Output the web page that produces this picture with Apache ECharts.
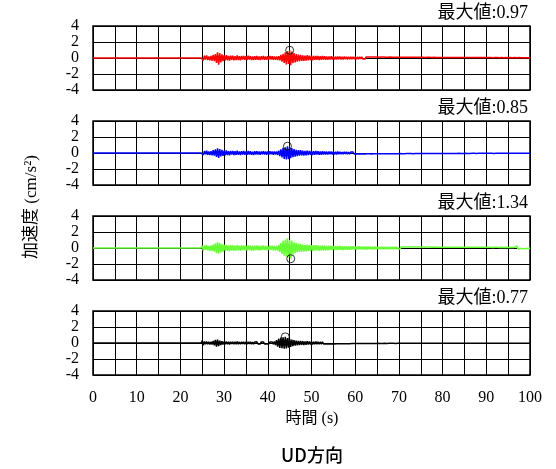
<!DOCTYPE html>
<html>
<head>
<meta charset="utf-8">
<script src="https://cdn.jsdelivr.net/npm/echarts@6/dist/echarts.min.js"></script>
<style>
html,body{margin:0;padding:0;background:#fff;}
#chart{width:556px;height:469px;}
</style>
</head>
<body>
<div id="chart"></div>
<script>
// time axis of the sampled records (s): first sample and step
var startTime = 25.0;
var timeStep = 0.25;
var xTicks = [0,10,20,30,40,50,60,70,80,90,100];
var yTicks = [-4,-2,0,2,4];

// acceleration records (cm/s^2), one value every 0.25 s from 25.00 s to 99.75 s (20 values per row = 5 s)
var accRed = [
 0.22,-0.3,0.28,-0.18,0.32,-0.26,0.2,-0.3,0.27,-0.34,0.4,-0.38,0.5,-0.62,0.72,-0.85,0.6,-0.55,0.45,-0.4,
 0.36,-0.3,0.34,-0.28,0.25,-0.32,0.3,-0.22,0.28,-0.3,0.24,-0.27,0.31,-0.25,0.22,-0.28,0.26,-0.2,0.27,-0.24,
 0.22,-0.26,0.28,-0.2,0.24,-0.25,0.19,-0.27,0.23,-0.21,0.26,-0.22,0.2,-0.24,0.22,-0.19,0.25,-0.21,0.2,-0.23,
 0.21,-0.2,0.24,-0.18,0.22,-0.23,0.19,-0.22,0.2,-0.25,0.23,-0.3,0.38,-0.45,0.52,-0.6,0.7,-0.82,0.88,-0.75,
 0.97,-0.9,0.8,-0.65,0.6,-0.55,0.48,-0.45,0.42,-0.38,0.4,-0.35,0.33,-0.36,0.3,-0.32,0.34,-0.28,0.3,-0.27,
 0.28,-0.3,0.26,-0.24,0.27,-0.22,0.25,-0.26,0.21,-0.23,0.24,-0.2,0.22,-0.21,0.19,-0.22,0.2,-0.18,0.21,-0.19,
 0.18,-0.2,0.17,-0.19,0.2,-0.16,0.18,-0.17,0.15,-0.18,0.17,-0.15,0.16,-0.17,0.14,-0.16,0.15,-0.14,0.16,-0.13,
 0.14,-0.15,0.13,-0.14,0.15,-0.12,0.14,-0.13,0.12,-0.14,0.13,-0.12,0.14,-0.11,0.12,-0.13,0.11,-0.12,0.13,-0.11,
 0.12,-0.11,0.1,-0.12,0.11,-0.1,0.12,-0.09,0.1,-0.11,0.09,-0.1,0.11,-0.09,0.1,-0.1,0.09,-0.11,0.1,-0.09,
 0.09,-0.1,0.1,-0.08,0.09,-0.09,0.08,-0.1,0.09,-0.08,0.1,-0.08,0.08,-0.09,0.09,-0.07,0.08,-0.09,0.08,-0.08,
 0.08,-0.07,0.09,-0.08,0.07,-0.08,0.08,-0.07,0.08,-0.08,0.07,-0.07,0.08,-0.06,0.07,-0.08,0.07,-0.07,0.06,-0.07,
 0.07,-0.06,0.07,-0.07,0.06,-0.07,0.07,-0.06,0.06,-0.07,0.07,-0.06,0.06,-0.06,0.07,-0.05,0.06,-0.06,0.06,-0.05,
 0.06,-0.05,0.06,-0.06,0.05,-0.06,0.06,-0.05,0.05,-0.06,0.06,-0.05,0.05,-0.05,0.06,-0.05,0.05,-0.05,0.05,-0.06,
 0.05,-0.05,0.06,-0.04,0.05,-0.05,0.04,-0.05,0.05,-0.04,0.05,-0.05,0.04,-0.05,0.05,-0.04,0.04,-0.05,0.05,-0.04,
 0.04,-0.05,0.05,-0.04,0.04,-0.04,0.05,-0.04,0.04,-0.04,0.05,-0.04,0.04,-0.04,0.04,-0.05,0.04,-0.04,0.04,-0.04
];
var accBlue = [
 0.2,-0.26,0.24,-0.17,0.28,-0.22,0.2,-0.25,0.24,-0.3,0.35,-0.32,0.45,-0.5,0.58,-0.62,0.5,-0.42,0.38,-0.35,
 0.3,-0.28,0.31,-0.25,0.22,-0.28,0.26,-0.2,0.25,-0.27,0.22,-0.24,0.28,-0.22,0.2,-0.25,0.23,-0.19,0.24,-0.22,
 0.2,-0.23,0.25,-0.18,0.22,-0.22,0.17,-0.24,0.21,-0.19,0.23,-0.2,0.18,-0.22,0.2,-0.17,0.22,-0.19,0.18,-0.21,
 0.19,-0.18,0.21,-0.17,0.2,-0.21,0.18,-0.2,0.19,-0.24,0.3,-0.38,0.45,-0.55,0.65,-0.75,0.7,-0.8,0.85,-0.78,
 0.72,-0.66,0.6,-0.52,0.48,-0.45,0.4,-0.38,0.36,-0.33,0.35,-0.3,0.3,-0.32,0.27,-0.29,0.3,-0.25,0.27,-0.24,
 0.25,-0.27,0.23,-0.22,0.24,-0.2,0.22,-0.23,0.19,-0.21,0.21,-0.18,0.2,-0.19,0.17,-0.2,0.18,-0.16,0.19,-0.17,
 0.16,-0.18,0.15,-0.17,0.18,-0.14,0.16,-0.15,0.13,-0.16,0.15,-0.13,0.14,-0.15,0.12,-0.14,0.13,-0.12,0.14,-0.12,
 0.12,-0.13,0.11,-0.12,0.13,-0.1,0.12,-0.11,0.1,-0.12,0.11,-0.1,0.12,-0.1,0.1,-0.11,0.1,-0.1,0.11,-0.09,
 0.1,-0.09,0.09,-0.1,0.1,-0.08,0.1,-0.08,0.09,-0.09,0.08,-0.09,0.09,-0.08,0.09,-0.08,0.08,-0.09,0.08,-0.08,
 0.08,-0.07,0.08,-0.08,0.07,-0.08,0.07,-0.07,0.08,-0.06,0.07,-0.07,0.06,-0.08,0.07,-0.06,0.07,-0.07,0.06,-0.07,
 0.07,-0.06,0.06,-0.07,0.07,-0.06,0.06,-0.06,0.07,-0.05,0.06,-0.06,0.05,-0.06,0.06,-0.05,0.06,-0.06,0.05,-0.06,
 0.06,-0.05,0.05,-0.06,0.06,-0.05,0.05,-0.05,0.06,-0.05,0.05,-0.05,0.05,-0.06,0.05,-0.04,0.05,-0.05,0.04,-0.05,
 0.05,-0.04,0.05,-0.05,0.04,-0.05,0.05,-0.04,0.05,-0.04,0.04,-0.05,0.05,-0.04,0.04,-0.04,0.05,-0.04,0.04,-0.04,
 0.04,-0.04,0.05,-0.04,0.04,-0.04,0.04,-0.05,0.04,-0.04,0.04,-0.04,0.05,-0.03,0.04,-0.04,0.04,-0.04,0.03,-0.04,
 0.04,-0.03,0.04,-0.04,0.03,-0.04,0.04,-0.03,0.04,-0.04,0.03,-0.04,0.04,-0.03,0.04,-0.03,0.03,-0.04,0.04,-0.03
];
var accGreen = [
 0.28,-0.34,0.32,-0.24,0.36,-0.3,0.27,-0.35,0.33,-0.4,0.46,-0.44,0.58,-0.66,0.75,-0.7,0.62,-0.55,0.48,-0.45,
 0.42,-0.36,0.4,-0.34,0.3,-0.38,0.36,-0.28,0.34,-0.36,0.3,-0.33,0.37,-0.3,0.28,-0.34,0.32,-0.26,0.33,-0.3,
 0.28,-0.32,0.34,-0.26,0.3,-0.31,0.25,-0.33,0.29,-0.27,0.32,-0.28,0.26,-0.3,0.28,-0.25,0.31,-0.27,0.26,-0.29,
 0.27,-0.26,0.3,-0.24,0.28,-0.29,0.25,-0.28,0.27,-0.32,0.4,-0.5,0.62,-0.75,0.9,-0.95,1.05,-1.1,1.2,-1.15,
 1.0,-1.34,0.9,-0.8,0.72,-0.66,0.6,-0.55,0.52,-0.48,0.5,-0.44,0.42,-0.45,0.4,-0.41,0.43,-0.37,0.4,-0.36,
 0.37,-0.38,0.35,-0.33,0.36,-0.3,0.33,-0.34,0.29,-0.31,0.32,-0.28,0.3,-0.29,0.26,-0.3,0.28,-0.25,0.28,-0.26,
 0.25,-0.27,0.24,-0.26,0.27,-0.22,0.25,-0.24,0.21,-0.25,0.23,-0.21,0.22,-0.23,0.2,-0.22,0.21,-0.19,0.22,-0.19,
 0.2,-0.21,0.19,-0.2,0.21,-0.17,0.2,-0.18,0.17,-0.2,0.18,-0.17,0.19,-0.16,0.17,-0.18,0.16,-0.17,0.18,-0.15,
 0.16,-0.15,0.14,-0.16,0.15,-0.14,0.16,-0.13,0.14,-0.15,0.13,-0.14,0.15,-0.13,0.14,-0.13,0.13,-0.14,0.14,-0.12,
 0.12,-0.13,0.13,-0.11,0.12,-0.12,0.11,-0.13,0.12,-0.11,0.13,-0.11,0.11,-0.12,0.12,-0.1,0.11,-0.12,0.11,-0.11,
 0.11,-0.1,0.12,-0.11,0.1,-0.11,0.11,-0.1,0.11,-0.11,0.1,-0.1,0.11,-0.09,0.1,-0.11,0.1,-0.1,0.09,-0.1,
 0.1,-0.09,0.1,-0.1,0.09,-0.1,0.1,-0.09,0.09,-0.1,0.1,-0.09,0.09,-0.09,0.1,-0.08,0.09,-0.09,0.09,-0.08,
 0.09,-0.08,0.09,-0.09,0.08,-0.09,0.09,-0.08,0.08,-0.09,0.09,-0.08,0.08,-0.08,0.09,-0.08,0.08,-0.08,0.08,-0.09,
 0.08,-0.08,0.09,-0.07,0.08,-0.08,0.07,-0.08,0.08,-0.07,0.08,-0.08,0.07,-0.08,0.08,-0.07,0.07,-0.08,0.08,-0.07,
 0.07,-0.08,0.08,-0.07,0.07,-0.07,0.08,-0.07,0.25,-0.12,0.08,-0.07,0.07,-0.07,0.07,-0.08,0.07,-0.07,0.07,-0.07
];
var accBlack = [
 0.3,-0.28,0.2,-0.15,0.18,-0.14,0.16,-0.18,0.15,-0.2,0.25,-0.3,0.4,-0.45,0.42,-0.38,0.3,-0.25,0.22,-0.2,
 0.18,-0.16,0.19,-0.15,0.14,-0.17,0.16,-0.13,0.15,-0.16,0.14,-0.15,0.17,-0.14,0.13,-0.15,0.15,-0.12,0.15,-0.14,
 0.13,-0.15,0.16,-0.12,0.14,-0.14,0.12,-0.15,0.13,-0.12,0.15,-0.13,0.12,-0.14,0.13,-0.11,0.14,-0.12,0.12,-0.13,
 0.12,-0.12,0.14,-0.11,0.13,-0.14,0.18,-0.25,0.35,-0.45,0.55,-0.6,0.68,-0.65,0.72,-0.7,0.77,-0.68,0.62,-0.58,
 0.52,-0.48,0.42,-0.4,0.35,-0.33,0.3,-0.28,0.27,-0.25,0.26,-0.22,0.22,-0.24,0.2,-0.21,0.22,-0.18,0.2,-0.18,
 0.17,-0.18,0.16,-0.15,0.17,-0.14,0.15,-0.15,0.13,-0.14,0.14,-0.12,0.13,-0.13,0.11,-0.12,0.12,-0.1,0.12,-0.11,
 0.1,-0.11,0.09,-0.1,0.11,-0.08,0.1,-0.09,0.08,-0.1,0.09,-0.08,0.09,-0.09,0.07,-0.08,0.08,-0.07,0.08,-0.07,
 0.07,-0.07,0.06,-0.07,0.08,-0.06,0.07,-0.06,0.05,-0.07,0.06,-0.05,0.07,-0.05,0.06,-0.06,0.05,-0.05,0.06,-0.05,
 0.05,-0.04,0.05,-0.05,0.04,-0.05,0.05,-0.04,0.04,-0.05,0.05,-0.04,0.04,-0.04,0.05,-0.04,0.04,-0.05,0.04,-0.04,
 0.04,-0.04,0.05,-0.03,0.04,-0.04,0.03,-0.04,0.04,-0.03,0.04,-0.04,0.03,-0.04,0.04,-0.03,0.03,-0.04,0.04,-0.03,
 0.03,-0.04,0.04,-0.03,0.03,-0.03,0.04,-0.03,0.03,-0.03,0.04,-0.03,0.03,-0.03,0.03,-0.04,0.03,-0.03,0.03,-0.03,
 0.03,-0.03,0.04,-0.03,0.03,-0.03,0.03,-0.02,0.03,-0.03,0.03,-0.03,0.02,-0.03,0.03,-0.03,0.03,-0.02,0.03,-0.03,
 0.03,-0.02,0.03,-0.03,0.02,-0.03,0.03,-0.02,0.03,-0.03,0.02,-0.02,0.03,-0.02,0.02,-0.03,0.03,-0.02,0.02,-0.02,
 0.02,-0.03,0.02,-0.02,0.03,-0.02,0.02,-0.02,0.02,-0.02,0.03,-0.02,0.02,-0.02,0.02,-0.02,0.02,-0.03,0.02,-0.02,
 0.02,-0.02,0.02,-0.02,0.02,-0.02,0.02,-0.02,0.02,-0.02,0.02,-0.02,0.02,-0.02,0.02,-0.02,0.02,-0.02,0.02,-0.02
];

// peak (maximum absolute) points marked with circles
var peakTimes = [45.0, 44.5, 45.25, 44.0];
var peakValues = [0.97, 0.85, -1.34, 0.77];
var peakLabels = ['最大値:0.97', '最大値:0.85', '最大値:1.34', '最大値:0.77'];

var seriesColors = ['#ff0000', '#0000ff', '#66ff33', '#000000'];
var records = [accRed, accBlue, accGreen, accBlack];

var panelTops = [26, 121, 216, 311];
var panelH = 64;
var plotLeft = 93, plotRight = 530;
var serif = "'Liberation Serif','Times New Roman','Noto Sans CJK JP',serif";

var chart = echarts.init(document.getElementById('chart'), null, {renderer: 'canvas'});

var grids = [], xAxes = [], yAxes = [], series = [], graphics = [];
for (var p = 0; p < 4; p++) {
  grids.push({left: plotLeft, width: plotRight - plotLeft, top: panelTops[p], height: panelH,
              show: true, borderColor: '#000', borderWidth: 1.5, backgroundColor: '#fff'});
  xAxes.push({
    type: 'value', gridIndex: p, min: 0, max: 100, interval: 5,
    axisLine: {show: false}, axisTick: {show: false},
    splitLine: {show: true, lineStyle: {color: '#000', width: 1}},
    axisLabel: {
      show: p === 3, margin: 15, color: '#000', fontFamily: serif, fontSize: 16,
      formatter: function (v) { return xTicks.indexOf(v) >= 0 ? String(v) : ''; }
    }
  });
  yAxes.push({
    type: 'value', gridIndex: p, min: yTicks[0], max: yTicks[yTicks.length - 1], interval: 2,
    axisLine: {show: false}, axisTick: {show: false},
    splitLine: {show: true, lineStyle: {color: '#000', width: 1}},
    axisLabel: {margin: 14, color: '#000', fontFamily: serif, fontSize: 16, lineHeight: 14}
  });
  var rec = records[p];
  var data = [[0, 0], [startTime - timeStep, 0]];
  for (var i = 0; i < rec.length; i++) data.push([startTime + i * timeStep, rec[i]]);
  data.push([100, 0]);
  series.push({
    type: 'line', xAxisIndex: p, yAxisIndex: p, data: data, showSymbol: false, symbol: 'none',
    lineStyle: {color: seriesColors[p], width: 1.5}, animation: false, z: 3
  });
  series.push({
    type: 'scatter', xAxisIndex: p, yAxisIndex: p, data: [[peakTimes[p], peakValues[p]]],
    symbol: 'circle', symbolSize: 8,
    itemStyle: {color: 'rgba(0,0,0,0)', borderColor: '#000', borderWidth: 1},
    animation: false, z: 4
  });
  graphics.push({
    type: 'text', right: 556 - plotRight + 2, top: panelTops[p] - 22,
    style: {text: peakLabels[p], font: '18px ' + serif, fill: '#000'}
  });
}

graphics.push({
  type: 'text', x: 32, y: 207, rotation: Math.PI / 2,
  style: {text: '加速度 (cm/s²)', font: '17px ' + serif, fill: '#000', textAlign: 'center', textVerticalAlign: 'middle'}
});
graphics.push({
  type: 'text', x: 312, y: 419,
  style: {text: '時間 (s)', font: '16px ' + serif, fill: '#000', textAlign: 'center', textVerticalAlign: 'middle'}
});
graphics.push({
  type: 'text', x: 312, y: 455,
  style: {text: 'UD方向', font: '500 18px "Noto Sans CJK JP", sans-serif', fill: '#000', textAlign: 'center', textVerticalAlign: 'middle'}
});

chart.setOption({
  animation: false,
  backgroundColor: '#fff',
  grid: grids, xAxis: xAxes, yAxis: yAxes, series: series, graphic: graphics
});
</script>
</body>
</html>
